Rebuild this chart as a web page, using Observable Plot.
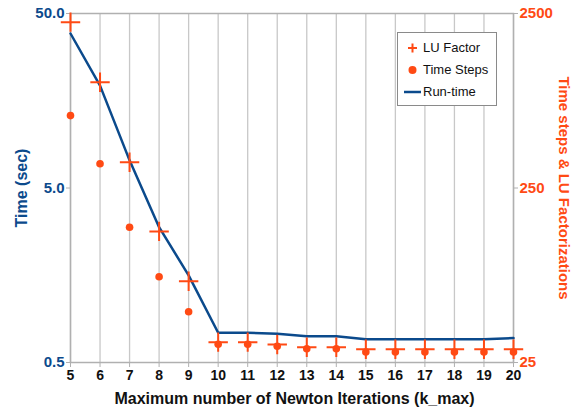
<!DOCTYPE html>
<html><head><meta charset="utf-8">
<script src="https://cdn.jsdelivr.net/npm/d3@7"></script>
<script src="https://cdn.jsdelivr.net/npm/@observablehq/plot@0.6"></script>
<style>
body{margin:0;background:#fff;font-family:"Liberation Sans",Arial,sans-serif;}
#wrap{position:relative;width:579px;height:416px;}
#legend{position:absolute;left:397px;top:32px;width:100px;height:74px;border:1px solid #8a8a8a;background:#fff;box-sizing:border-box;font-size:13px;color:#111;}
#legend .row{position:absolute;left:0;height:16px;line-height:16px;}
#legend .lbl{position:absolute;left:25px;white-space:nowrap;}
</style></head><body><div id="wrap"></div>
<script>
const kmax = [5, 6, 7, 8, 9, 10, 11, 12, 13, 14, 15, 16, 17, 18, 19, 20];
const runTime = [38.4, 19.3, 7.2, 2.98, 1.58, 0.74, 0.74, 0.73, 0.707, 0.707, 0.68, 0.68, 0.68, 0.68, 0.68, 0.69];
const luFactor = [2230, 1010, 351, 141, 73, 32.7, 32.7, 31.7, 30.6, 30.6, 29.8, 29.8, 29.8, 29.8, 29.8, 29.8];
const timeSteps = [650, 344, 149, 77.5, 48.8, 31.8, 31.8, 31.0, 30.0, 30.0, 28.7, 28.7, 28.7, 28.7, 28.7, 28.7];
const leftTicks = [0.5, 5, 50];
const rightTicks = [25, 250, 2500];
const seriesNames = ["LU Factor", "Time Steps", "Run-time"];
const xTitle = "Maximum number of Newton Iterations (k_max)";
const leftTitle = "Time (sec)";
const rightTitle = "Time steps & LU Factorizations";

const blue = "#0b4a8c";
const orange = "#ff4a14";
const ratio = rightTicks[2] / leftTicks[2];

const rows = kmax.map((k, i) => ({k, rt: runTime[i], lu: luFactor[i], ts: timeSteps[i]}));

const chart = Plot.plot({
  width: 579, height: 416,
  marginLeft: 70, marginRight: 66, marginTop: 13, marginBottom: 54,
  style: {fontFamily: "'Liberation Sans', Arial, sans-serif", background: "#fff"},
  x: {domain: [5, 20]},
  y: {type: "log", domain: [0.5, 50]},
  marks: [
    Plot.gridX(kmax, {stroke: "#c8c8c8", strokeOpacity: 1, strokeWidth: 1.3}),
    Plot.frame({stroke: "#b0b0b0", strokeWidth: 1.5}),
    Plot.axisX(kmax, {tickSize: 5, tickPadding: 3, stroke: "#b0b0b0", fill: "#111", fontSize: 14, fontWeight: "bold", label: null}),
    Plot.axisY(leftTicks, {anchor: "left", tickSize: 4, tickPadding: 2, stroke: "#b0b0b0", fill: blue, fontSize: 15, fontWeight: "bold", tickFormat: d => d.toFixed(1), label: null}),
    Plot.axisY(rightTicks.map(v => v / ratio), {anchor: "right", tickSize: 4, tickPadding: 2, stroke: "#b0b0b0", fill: orange, fontSize: 15, fontWeight: "bold", tickFormat: d => String(Math.round(d * ratio)), label: null}),
    Plot.line(rows, {x: "k", y: "rt", stroke: blue, strokeWidth: 2.5}),
    Plot.dot(rows, {x: "k", y: d => d.ts / ratio, fill: orange, r: 3.8, stroke: "none"}),
    Plot.dot(rows, {x: "k", y: d => d.lu / ratio, symbol: "plus", stroke: orange, strokeWidth: 2, r: 6.3}),
    Plot.text([leftTitle], {frameAnchor: "left", textAnchor: "middle", dx: -49, rotate: -90, fill: blue, fontSize: 16, fontWeight: "bold"}),
    Plot.text([rightTitle], {frameAnchor: "right", textAnchor: "middle", dx: 50, rotate: 90, fill: orange, fontSize: 15, fontWeight: "bold"}),
    Plot.text([xTitle], {frameAnchor: "bottom", textAnchor: "middle", dy: 41, dx: 2.5, fill: "#111", fontSize: 16, fontWeight: "bold"})
  ]
});
const wrap = document.getElementById("wrap");
wrap.appendChild(chart);

const legend = document.createElement("div");
legend.id = "legend";
const sym = [
  `<svg width="20" height="16" style="position:absolute;left:4px;top:0"><path d="M10.5 3.5V12.5M6 8H15" stroke="${orange}" stroke-width="2"/></svg>`,
  `<svg width="20" height="16" style="position:absolute;left:4px;top:0"><circle cx="10.5" cy="8" r="4" fill="${orange}"/></svg>`,
  `<svg width="20" height="16" style="position:absolute;left:4px;top:0"><path d="M2 8H19" stroke="${blue}" stroke-width="2.5"/></svg>`
];
const tops = [7, 29, 51];
seriesNames.forEach((n, i) => {
  const r = document.createElement("div");
  r.className = "row";
  r.style.top = tops[i] + "px";
  r.style.width = "98px";
  r.innerHTML = sym[i] + `<span class="lbl">${n}</span>`;
  legend.appendChild(r);
});
wrap.appendChild(legend);
</script>
</body></html>
